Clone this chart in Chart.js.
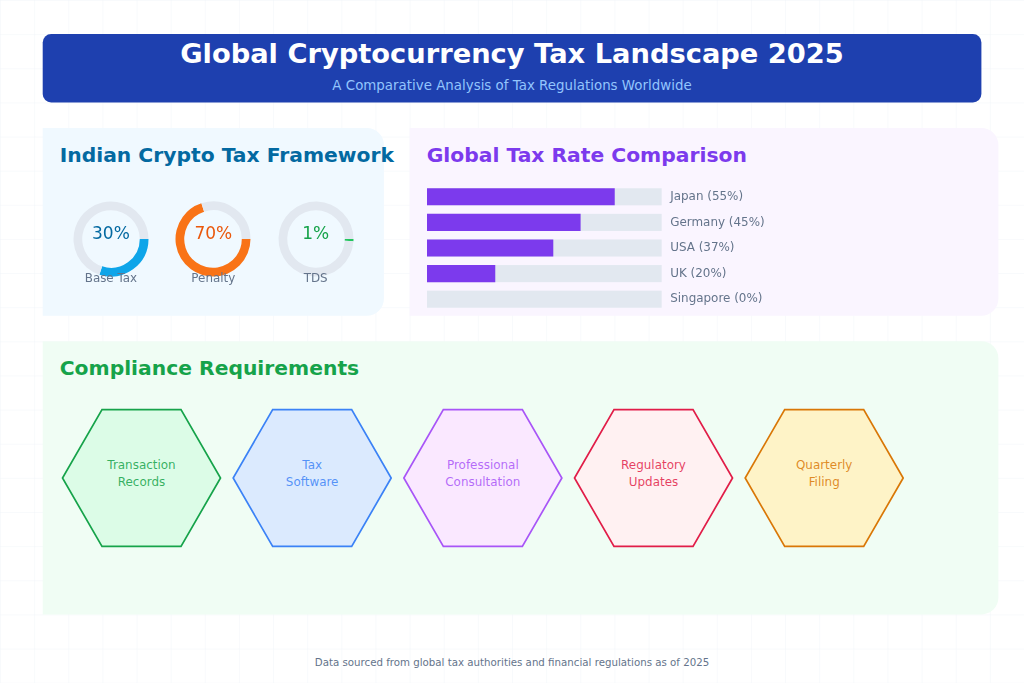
<!DOCTYPE html>
<html lang="en">
<head>
<meta charset="UTF-8">
<title>Global Cryptocurrency Tax Landscape 2025</title>
<script src="https://cdn.jsdelivr.net/npm/chart.js"></script>
<style>
  html, body { margin: 0; padding: 0; }
  body { width: 1024px; height: 683px; position: relative; overflow: hidden; background: #fff; font-family: "DejaVu Sans", sans-serif; }
  svg.layer { position: absolute; left: 0; top: 0; }
  #textLayer { pointer-events: none; }
  canvas { position: absolute; }
</style>
</head>
<body>
<svg class="layer" id="bgLayer" width="1024" height="683" viewBox="0 0 1024 683">
  <defs>
    <pattern id="grid" width="34.133" height="34.133" patternUnits="userSpaceOnUse">
      <path d="M 34.133 0 L 0 0 0 34.133" fill="none" stroke="#f1f5f9" stroke-width="1"/>
    </pattern>
  </defs>
  <rect width="1024" height="683" fill="url(#grid)"/>
  <rect x="42.7" y="34.1" width="938.7" height="68.3" rx="8.5" fill="#1e40af"/>
  <text x="512" y="63" text-anchor="middle" font-size="27.3" font-weight="bold" fill="#ffffff">Global Cryptocurrency Tax Landscape 2025</text>
  <text x="512" y="89.5" text-anchor="middle" font-size="13.4" fill="#93c5fd">A Comparative Analysis of Tax Regulations Worldwide</text>

  <path d="M42.7 128 H366.9 A17 17 0 0 1 383.9 145 V298.7 A17 17 0 0 1 366.9 315.7 H42.7 Z" fill="#f0f9ff"/>
  <path d="M409.6 128 H981.4 A17 17 0 0 1 998.4 145 V298.7 A17 17 0 0 1 981.4 315.7 H409.6 Z" fill="#faf5ff"/>
  <path d="M42.7 341.3 H981.4 A17 17 0 0 1 998.4 358.3 V597.4 A17 17 0 0 1 981.4 614.4 H42.7 Z" fill="#f0fdf4"/>

  <text x="59.7" y="162" font-size="20.3" font-weight="bold" fill="#0369a1">Indian Crypto Tax Framework</text>
  <text x="426.7" y="162" font-size="20.3" font-weight="bold" fill="#7c3aed">Global Tax Rate Comparison</text>
  <text x="59.7" y="375.3" font-size="20.3" font-weight="bold" fill="#16a34a">Compliance Requirements</text>

  <g id="hexes"></g>

  <text x="512" y="665.6" text-anchor="middle" font-size="10.24" fill="#64748b">Data sourced from global tax authorities and financial regulations as of 2025</text>
</svg>

<canvas id="donut0" width="80" height="80" style="left:70.9px;top:198.9px;width:80px;height:80px"></canvas>
<canvas id="donut1" width="80" height="80" style="left:173.3px;top:198.9px;width:80px;height:80px"></canvas>
<canvas id="donut2" width="80" height="80" style="left:275.7px;top:198.9px;width:80px;height:80px"></canvas>
<canvas id="rateChart" width="380" height="128" style="left:426.67px;top:183.5px;width:380px;height:128px"></canvas>

<svg class="layer" id="textLayer" width="1024" height="683" viewBox="0 0 1024 683"></svg>

<script>
// Indian framework
const taxLabels = ['Base Tax', 'Penalty', 'TDS'];
const taxRates = [30, 70, 1];

// global comparison
const countries = ['Japan', 'Germany', 'USA', 'UK', 'Singapore'];
const countryRates = [55, 45, 37, 20, 0];

// compliance
const requirements = [
  ['Transaction', 'Records'],
  ['Tax', 'Software'],
  ['Professional', 'Consultation'],
  ['Regulatory', 'Updates'],
  ['Quarterly', 'Filing']
];

Chart.defaults.font.family = '"DejaVu Sans", sans-serif';
Chart.defaults.animation = false;

const ringColors = ['#0ea5e9', '#f97316', '#22c55e'];
const ringText = ['#0369a1', '#ea580c', '#16a34a'];
const ringX = [110.9, 213.3, 315.7];
const ringY = 238.9;
const NS = 'http://www.w3.org/2000/svg';
const textLayer = document.getElementById('textLayer');

function svgText(parent, x, y, str, size, color, opacity) {
  const t = document.createElementNS(NS, 'text');
  t.setAttribute('x', x);
  t.setAttribute('y', y);
  t.setAttribute('text-anchor', 'middle');
  t.setAttribute('font-size', size);
  t.setAttribute('fill', color);
  if (opacity) t.setAttribute('fill-opacity', opacity);
  t.textContent = str;
  parent.appendChild(t);
}

taxRates.forEach((v, i) => {
  new Chart(document.getElementById('donut' + i), {
    type: 'doughnut',
    data: {
      labels: [taxLabels[i], ''],
      datasets: [{ data: [v, 100 - v], backgroundColor: [ringColors[i], '#e2e8f0'], borderWidth: 0 }]
    },
    options: {
      responsive: false,
      events: [],
      rotation: 90,
      radius: 37.5,
      cutout: 30.7,
      layout: { padding: 0 },
      plugins: { legend: { display: false }, tooltip: { enabled: false } }
    }
  });
  svgText(textLayer, ringX[i], ringY + 0.4, v + '%', 17, ringText[i]);
  svgText(textLayer, ringX[i], ringY + 42.8, taxLabels[i], 11.9, '#64748b');
});

// grey track behind each bar
const trackPlugin = {
  id: 'tracks',
  beforeDatasetsDraw(chart) {
    const { ctx, scales: { x, y } } = chart;
    const x0 = x.getPixelForValue(x.min);
    const x1 = x.getPixelForValue(x.max);
    const h = 17.07;
    ctx.save();
    ctx.fillStyle = '#e2e8f0';
    countries.forEach((c, i) => {
      const yc = y.getPixelForTick(i);
      ctx.fillRect(x0, yc - h / 2, x1 - x0, h);
    });
    ctx.restore();
  }
};

new Chart(document.getElementById('rateChart'), {
  type: 'bar',
  data: {
    labels: countries,
    datasets: [{
      data: countryRates,
      backgroundColor: '#7c3aed',
      borderWidth: 0,
      barPercentage: 0.667,
      categoryPercentage: 1
    }]
  },
  options: {
    indexAxis: 'y',
    responsive: false,
    events: [],
    layout: { padding: 0 },
    scales: {
      x: { display: false, min: 0, max: 68.75 },
      y: {
        position: 'right',
        grid: { display: false, drawTicks: false },
        border: { display: false },
        afterFit(scale) {
          scale.width = 380 - 234.67;
          scale.paddingTop = 0;
          scale.paddingBottom = 0;
        },
        ticks: {
          padding: 8.5,
          color: '#64748b',
          font: { size: 11.95 },
          callback: (val, i) => countries[i] + ' (' + countryRates[i] + '%)'
        }
      }
    },
    plugins: { legend: { display: false }, tooltip: { enabled: false } }
  },
  plugins: [trackPlugin]
});

// hexagons
const hexStroke = ['#16a34a', '#3b82f6', '#a855f7', '#e11d48', '#d97706'];
const hexFill = ['#dcfce7', '#dbeafe', '#fae8ff', '#fff1f2', '#fef3c7'];
const hexG = document.getElementById('hexes');
requirements.forEach((lines, i) => {
  const cx = 141.5 + i * 170.67, cy = 478, r = 79;
  const pts = [];
  for (let k = 0; k < 6; k++) {
    const a = Math.PI / 3 * k;
    pts.push((cx + r * Math.cos(a)).toFixed(2) + ',' + (cy + r * Math.sin(a)).toFixed(2));
  }
  const p = document.createElementNS(NS, 'polygon');
  p.setAttribute('points', pts.join(' '));
  p.setAttribute('fill', hexFill[i]);
  p.setAttribute('stroke', hexStroke[i]);
  p.setAttribute('stroke-width', 1.7);
  hexG.appendChild(p);
  svgText(hexG, cx, 469.3, lines[0], 11.95, hexStroke[i], 0.85);
  svgText(hexG, cx, 486.4, lines[1], 11.95, hexStroke[i], 0.85);
});
</script>
</body>
</html>
